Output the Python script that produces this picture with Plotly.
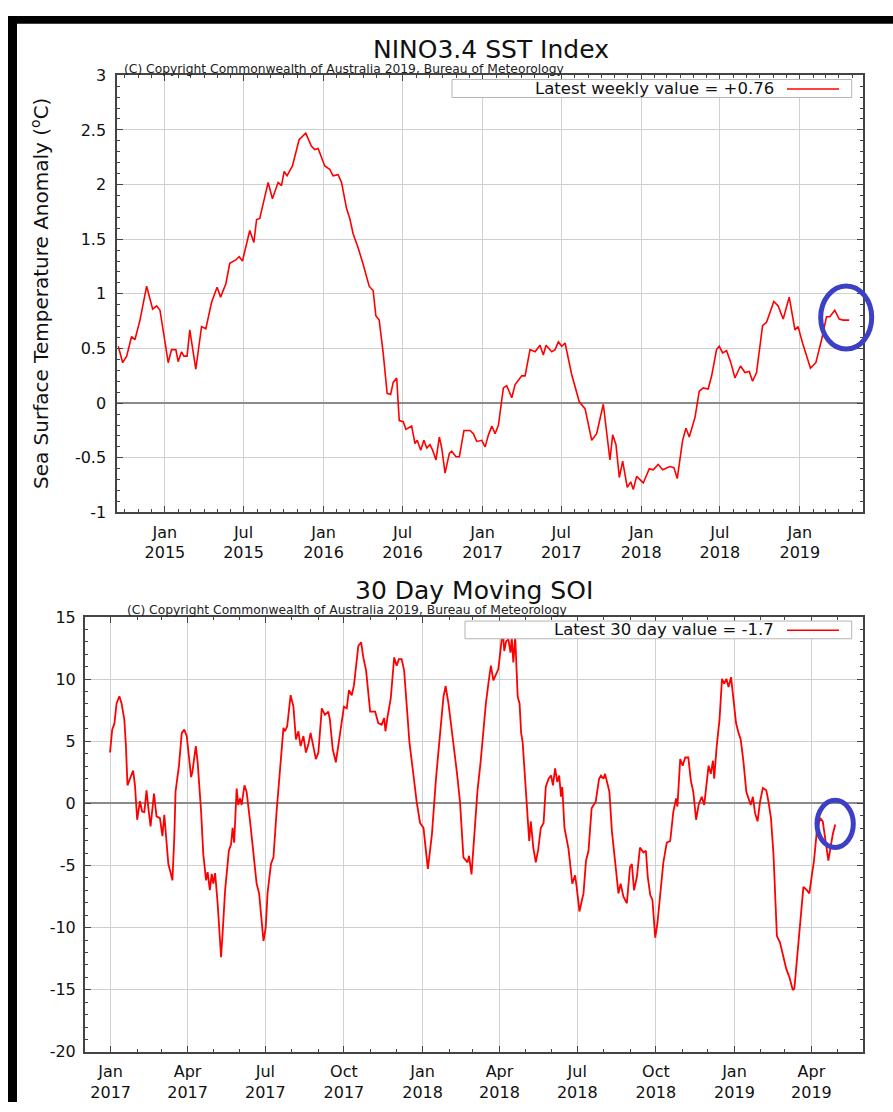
import numpy as np
import pandas as pd
import plotly.graph_objects as go

# ---------------- data (decimal years) ----------------
nino_t = [2014.706, 2014.734, 2014.759, 2014.790, 2014.811, 2014.843, 2014.885, 2014.923, 2014.948, 2014.969,
          2015.021, 2015.042, 2015.069, 2015.084, 2015.105, 2015.120, 2015.140, 2015.157, 2015.195, 2015.231,
          2015.258, 2015.294, 2015.329, 2015.351, 2015.384, 2015.409, 2015.447, 2015.468, 2015.489, 2015.535,
          2015.561, 2015.578, 2015.598, 2015.651, 2015.678, 2015.714, 2015.735, 2015.752, 2015.770, 2015.804,
          2015.846, 2015.888, 2015.924, 2015.945, 2015.966, 2016.008, 2016.039, 2016.060, 2016.092, 2016.113,
          2016.145, 2016.165, 2016.186, 2016.218, 2016.249, 2016.287, 2016.312, 2016.329, 2016.350, 2016.375,
          2016.400, 2016.422, 2016.438, 2016.460, 2016.476, 2016.501, 2016.518, 2016.554, 2016.575, 2016.589,
          2016.611, 2016.631, 2016.649, 2016.669, 2016.686, 2016.707, 2016.728, 2016.743, 2016.764, 2016.791,
          2016.806, 2016.833, 2016.854, 2016.883, 2016.921, 2016.942, 2016.963, 2016.995, 2017.016, 2017.037,
          2017.058, 2017.079, 2017.100, 2017.131, 2017.152, 2017.184, 2017.205, 2017.247, 2017.268, 2017.299,
          2017.331, 2017.362, 2017.383, 2017.400, 2017.436, 2017.457, 2017.478, 2017.499, 2017.520, 2017.562,
          2017.610, 2017.646, 2017.688, 2017.719, 2017.761, 2017.782, 2017.803, 2017.820, 2017.841, 2017.862,
          2017.883, 2017.912, 2017.934, 2017.950, 2017.971, 2018.013, 2018.051, 2018.076, 2018.107, 2018.135,
          2018.181, 2018.206, 2018.227, 2018.261, 2018.282, 2018.303, 2018.339, 2018.366, 2018.391, 2018.422,
          2018.444, 2018.475, 2018.492, 2018.513, 2018.538, 2018.563, 2018.591, 2018.626, 2018.654, 2018.681,
          2018.702, 2018.727, 2018.765, 2018.790, 2018.836, 2018.863, 2018.895, 2018.933, 2018.969, 2018.989,
          2019.017, 2019.067, 2019.101, 2019.137, 2019.168, 2019.189, 2019.220, 2019.248, 2019.273, 2019.311]
nino_v = [0.52, 0.37, 0.43, 0.61, 0.58, 0.76, 1.07, 0.86, 0.89, 0.85,
          0.37, 0.49, 0.49, 0.38, 0.47, 0.43, 0.43, 0.67, 0.31, 0.70,
          0.68, 0.92, 1.06, 0.97, 1.09, 1.28, 1.31, 1.34, 1.30, 1.58,
          1.47, 1.68, 1.69, 2.02, 1.87, 2.02, 1.99, 2.12, 2.08, 2.17,
          2.41, 2.47, 2.35, 2.32, 2.33, 2.17, 2.14, 2.08, 2.09, 2.02,
          1.78, 1.69, 1.55, 1.42, 1.27, 1.07, 1.03, 0.80, 0.76, 0.46,
          0.09, 0.08, 0.19, 0.23, -0.16, -0.17, -0.24, -0.21, -0.37, -0.34,
          -0.43, -0.34, -0.41, -0.38, -0.43, -0.52, -0.31, -0.41, -0.64, -0.46,
          -0.44, -0.49, -0.49, -0.25, -0.25, -0.28, -0.35, -0.34, -0.40, -0.29,
          -0.21, -0.28, -0.20, 0.14, 0.16, 0.05, 0.17, 0.25, 0.25, 0.49,
          0.47, 0.53, 0.44, 0.53, 0.47, 0.49, 0.56, 0.52, 0.55, 0.26,
          0.01, -0.05, -0.34, -0.28, -0.01, -0.25, -0.52, -0.29, -0.38, -0.68,
          -0.53, -0.77, -0.72, -0.79, -0.67, -0.73, -0.60, -0.61, -0.56, -0.61,
          -0.58, -0.59, -0.69, -0.34, -0.23, -0.31, -0.13, 0.11, 0.14, 0.13,
          0.25, 0.49, 0.52, 0.46, 0.48, 0.38, 0.23, 0.34, 0.28, 0.29,
          0.20, 0.28, 0.71, 0.74, 0.93, 0.89, 0.77, 0.97, 0.67, 0.70,
          0.55, 0.32, 0.37, 0.58, 0.79, 0.79, 0.85, 0.77, 0.76, 0.76]

soi_t = [2016.998, 2017.005, 2017.012, 2017.019, 2017.028, 2017.035, 2017.044, 2017.049, 2017.054, 2017.062,
         2017.072, 2017.078, 2017.085, 2017.094, 2017.101, 2017.108, 2017.115, 2017.121, 2017.128, 2017.139,
         2017.147, 2017.158, 2017.166, 2017.172, 2017.185, 2017.193, 2017.198, 2017.204, 2017.208, 2017.219,
         2017.228, 2017.236, 2017.244, 2017.258, 2017.262, 2017.273, 2017.279, 2017.290, 2017.297, 2017.306,
         2017.311, 2017.318, 2017.324, 2017.329, 2017.335, 2017.343, 2017.351, 2017.354, 2017.359, 2017.367,
         2017.379, 2017.386, 2017.391, 2017.396, 2017.404, 2017.409, 2017.415, 2017.420, 2017.429, 2017.436,
         2017.447, 2017.457, 2017.468, 2017.476, 2017.482, 2017.490, 2017.497, 2017.503, 2017.514, 2017.522,
         2017.532, 2017.538, 2017.546, 2017.554, 2017.559, 2017.566, 2017.577, 2017.586, 2017.594, 2017.602,
         2017.609, 2017.618, 2017.626, 2017.634, 2017.641, 2017.650, 2017.658, 2017.666, 2017.677, 2017.687,
         2017.698, 2017.703, 2017.712, 2017.722, 2017.730, 2017.741, 2017.748, 2017.757, 2017.764, 2017.773,
         2017.780, 2017.794, 2017.803, 2017.810, 2017.819, 2017.832, 2017.848, 2017.858, 2017.869, 2017.877,
         2017.881, 2017.887, 2017.898, 2017.909, 2017.917, 2017.924, 2017.933, 2017.941, 2017.958, 2017.971,
         2017.981, 2017.992, 2018.003, 2018.017, 2018.030, 2018.043, 2018.056, 2018.067, 2018.074, 2018.083,
         2018.094, 2018.101, 2018.110, 2018.120, 2018.131, 2018.144, 2018.149, 2018.157, 2018.166, 2018.176,
         2018.186, 2018.195, 2018.203, 2018.211, 2018.219, 2018.227, 2018.235, 2018.243, 2018.252, 2018.257,
         2018.262, 2018.268, 2018.275, 2018.282, 2018.286, 2018.291, 2018.297, 2018.305, 2018.311, 2018.316,
         2018.321, 2018.329, 2018.337, 2018.342, 2018.347, 2018.355, 2018.363, 2018.371, 2018.379, 2018.388,
         2018.395, 2018.404, 2018.412, 2018.418, 2018.425, 2018.432, 2018.438, 2018.444, 2018.448, 2018.455,
         2018.468, 2018.480, 2018.489, 2018.494, 2018.503, 2018.511, 2018.516, 2018.524, 2018.532, 2018.542,
         2018.555, 2018.566, 2018.572, 2018.580, 2018.585, 2018.594, 2018.599, 2018.607, 2018.617, 2018.628,
         2018.635, 2018.644, 2018.655, 2018.665, 2018.671, 2018.678, 2018.687, 2018.697, 2018.708, 2018.716,
         2018.722, 2018.730, 2018.737, 2018.746, 2018.753, 2018.762, 2018.772, 2018.783, 2018.794, 2018.804,
         2018.813, 2018.817, 2018.826, 2018.834, 2018.842, 2018.852, 2018.860, 2018.868, 2018.877, 2018.885,
         2018.895, 2018.903, 2018.909, 2018.917, 2018.924, 2018.931, 2018.935, 2018.943, 2018.952, 2018.960,
         2018.967, 2018.974, 2018.981, 2018.989, 2018.997, 2019.005, 2019.013, 2019.020, 2019.029, 2019.038,
         2019.045, 2019.052, 2019.059, 2019.066, 2019.074, 2019.082, 2019.091, 2019.102, 2019.109, 2019.117,
         2019.125, 2019.136, 2019.146, 2019.157, 2019.166, 2019.176, 2019.187, 2019.192, 2019.202, 2019.213,
         2019.221, 2019.232, 2019.240, 2019.248, 2019.255, 2019.264, 2019.275, 2019.283, 2019.294, 2019.301,
         2019.307, 2019.315, 2019.323]
soi_v = [4.09, 5.93, 6.41, 8.04, 8.62, 8.04, 6.72, 4.61, 1.45, 1.98,
         2.64, 1.45, -1.32, 0.18, -0.66, -0.71, 1.05, -0.40, -1.85, 0.79,
         -1.05, -1.19, -2.64, -0.92, -4.88, -5.67, -6.20, -2.77, 0.92, 3.03,
         5.67, 5.93, 5.41, 2.11, 2.51, 4.61, 3.30, -0.66, -4.09, -6.20,
         -5.54, -6.99, -5.67, -6.46, -5.62, -8.04, -12.0, -12.39, -10.42, -6.99,
         -3.82, -3.30, -1.98, -3.16, 1.19, -0.13, 0.40, -0.13, 1.45, 0.92,
         -1.45, -3.69, -6.46, -7.25, -9.10, -11.08, -10.02, -7.25, -4.88, -4.35,
         -0.66, 1.19, 4.09, 6.07, 5.80, 6.20, 8.70, 7.78, 5.14, 5.80,
         4.61, 5.41, 4.09, 4.75, 5.67, 4.61, 3.56, 4.09, 7.65, 7.12,
         7.38, 6.72, 4.35, 3.30, 4.61, 6.46, 7.78, 7.65, 9.10, 8.70,
         9.49, 12.66, 12.97, 11.74, 10.68, 7.38, 7.38, 6.46, 6.33, 6.86,
         5.80, 6.86, 8.44, 11.74, 11.08, 11.60, 11.60, 10.68, 4.88, 2.24,
         0.13, -1.58, -1.98, -5.27, -2.51, 1.98, 5.67, 8.57, 9.44, 8.04,
         5.80, 4.48, 2.51, 0.13, -4.35, -4.75, -4.22, -5.72, -2.51, 1.00,
         3.30, 5.93, 8.04, 9.63, 11.08, 9.89, 10.42, 10.81, 12.79, 13.90,
         12.26, 13.05, 13.19, 12.13, 13.32, 11.34, 13.45, 8.57, 8.04, 5.67,
         4.88, 2.24, -1.19, -3.03, -1.45, -3.56, -4.75, -3.69, -1.98, -1.58,
         1.32, 1.98, 2.24, 1.45, 2.82, 1.71, 2.24, 0.53, 1.32, -1.98,
         -3.69, -6.46, -5.80, -6.72, -8.70, -7.78, -7.25, -4.61, -3.82, -0.40,
         0.13, 1.98, 2.24, 1.98, 2.37, 1.45, 0.92, -2.24, -4.61, -7.25,
         -6.46, -7.52, -8.04, -5.14, -4.88, -6.99, -5.93, -3.56, -3.96, -3.82,
         -5.93, -7.38, -7.78, -10.81, -9.63, -7.25, -4.75, -3.16, -3.03, -0.66,
         0.40, -0.26, 3.56, 3.03, 3.69, 3.69, 1.85, 0.92, -1.32, -0.13,
         0.53, -0.13, 1.32, 3.03, 2.37, 3.43, 1.98, 4.61, 6.72, 10.02,
         9.63, 10.02, 9.36, 10.15, 8.31, 6.46, 5.67, 5.14, 3.30, 0.92,
         0.40, -0.13, 0.53, -0.79, -1.45, 0.13, 1.24, 1.05, 0.13, -1.19,
         -4.09, -10.68, -11.21, -12.26, -13.32, -13.98, -15.03, -14.90, -12.0, -8.57,
         -6.72, -6.99, -7.25, -5.80, -4.61, -2.24, -1.19, -1.45, -3.30, -4.61,
         -3.69, -2.51, -1.70]

nino_xtick_dates = ["2015-01-01", "2015-07-01", "2016-01-01", "2016-07-01", "2017-01-01",
                    "2017-07-01", "2018-01-01", "2018-07-01", "2019-01-01"]
nino_xtick_labels = ["Jan<br>2015", "Jul<br>2015", "Jan<br>2016", "Jul<br>2016", "Jan<br>2017",
                     "Jul<br>2017", "Jan<br>2018", "Jul<br>2018", "Jan<br>2019"]
soi_xtick_dates = ["2017-01-01", "2017-04-01", "2017-07-01", "2017-10-01", "2018-01-01",
                   "2018-04-01", "2018-07-01", "2018-10-01", "2019-01-01", "2019-04-01"]
soi_xtick_labels = ["Jan<br>2017", "Apr<br>2017", "Jul<br>2017", "Oct<br>2017", "Jan<br>2018",
                    "Apr<br>2018", "Jul<br>2018", "Oct<br>2018", "Jan<br>2019", "Apr<br>2019"]
nino_yticks = [-1, -0.5, 0, 0.5, 1, 1.5, 2, 2.5, 3]
nino_yticklabels = ["-1", "-0.5", "0", "0.5", "1", "1.5", "2", "2.5", "3"]
soi_yticks = [-20, -15, -10, -5, 0, 5, 10, 15]
soi_yticklabels = ["-20", "-15", "-10", "-5", "0", "5", "10", "15"]

nino_title = "NINO3.4 SST Index"
soi_title = "30 Day Moving SOI"
copyright_text = "(C) Copyright Commonwealth of Australia 2019, Bureau of Meteorology"
nino_legend = "Latest weekly value = +0.76"
soi_legend = "Latest 30 day value = -1.7"
nino_ytitle = "Sea Surface Temperature Anomaly (<sup>o</sup>C)"


def dec_to_date(t):
    y = int(np.floor(t))
    start = pd.Timestamp(year=y, month=1, day=1)
    end = pd.Timestamp(year=y + 1, month=1, day=1)
    return start + (end - start) * (t - y)


nino_dates = [dec_to_date(t) for t in nino_t]
soi_dates = [dec_to_date(t) for t in soi_t]

W, H = 893, 1112


def px(x):
    return x / W


def py(y):
    return 1 - y / H


FONT = "DejaVu Sans"
AX = "#444444"
GRID = "#d0d0d0"
RED = "#ff0000"
BLUE = "#3c40c6"

fig = go.Figure()
fig.add_trace(go.Scatter(x=nino_dates, y=nino_v, mode="lines", name=nino_legend,
                         line=dict(color=RED, width=1.6), xaxis="x", yaxis="y", showlegend=False))
fig.add_trace(go.Scatter(x=soi_dates, y=soi_v, mode="lines", name=soi_legend,
                         line=dict(color=RED, width=1.8), xaxis="x2", yaxis="y2", showlegend=False))

tickfont = dict(family=FONT, size=16, color="#111111")


def xaxis_common():
    return dict(type="date", tickmode="array", ticks="inside", ticklen=6, tickcolor=AX, tickwidth=1,
                showgrid=True, gridcolor=GRID, gridwidth=1,
                showline=True, linecolor=AX, linewidth=2, mirror="ticks",
                zeroline=False, tickfont=tickfont, ticklabelstandoff=4)


xa1 = xaxis_common()
xa1.update(domain=[px(117.3), px(863.3)], anchor="y",
           range=[dec_to_date(2014.70), dec_to_date(2019.40)],
           tickvals=nino_xtick_dates, ticktext=nino_xtick_labels,
           minor=dict(tickmode="linear", dtick="M1", tick0="2015-01-01", ticks="inside", ticklen=3,
                      tickcolor=AX, showgrid=False))
xa2 = xaxis_common()
xa2.update(domain=[px(85), px(863.3)], anchor="y2",
           range=[dec_to_date(2016.918), dec_to_date(2019.413)],
           tickvals=soi_xtick_dates, ticktext=soi_xtick_labels,
           minor=dict(tickmode="linear", dtick="M1", tick0="2017-01-01", ticks="inside", ticklen=3,
                      tickcolor=AX, showgrid=False))

ya1 = dict(domain=[py(512.2), py(67.4)], anchor="x", range=[-1, 3],
           tickmode="array", tickvals=nino_yticks, ticktext=nino_yticklabels,
           ticks="inside", ticklen=6, tickcolor=AX, showgrid=True, gridcolor=GRID, gridwidth=1,
           showline=True, linecolor=AX, linewidth=2, mirror="ticks",
           zeroline=True, zerolinecolor="#8a8a8a", zerolinewidth=1.5,
           tickfont=tickfont, ticklabelstandoff=6,
           minor=dict(tickmode="linear", tick0=-1, dtick=0.1, ticks="inside", ticklen=3,
                      tickcolor=AX, showgrid=False))
ya2 = dict(domain=[py(1061), py(618.5)], anchor="x2", range=[-20, 15],
           tickmode="array", tickvals=soi_yticks, ticktext=soi_yticklabels,
           ticks="inside", ticklen=6, tickcolor=AX, showgrid=True, gridcolor=GRID, gridwidth=1,
           showline=True, linecolor=AX, linewidth=2, mirror="ticks",
           zeroline=True, zerolinecolor="#8a8a8a", zerolinewidth=1.5,
           tickfont=tickfont, ticklabelstandoff=4,
           minor=dict(tickmode="linear", tick0=-20, dtick=1, ticks="inside", ticklen=3,
                      tickcolor=AX, showgrid=False))

annotations = [
    dict(text=nino_title, x=px(491), y=py(41), xref="paper", yref="paper", showarrow=False,
         xanchor="center", yanchor="middle", font=dict(family=FONT, size=25, color="#111111")),
    dict(text=copyright_text, x=px(122), y=py(61), xref="paper", yref="paper", showarrow=False,
         xanchor="left", yanchor="middle", font=dict(family=FONT, size=12.3, color="#222222")),
    dict(text=nino_ytitle, x=px(40), y=py(290), xref="paper", yref="paper", showarrow=False,
         textangle=-90, xanchor="center", yanchor="middle", font=dict(family=FONT, size=20, color="#111111")),
    dict(text=nino_legend, x=px(776), y=py(81), xref="paper", yref="paper", showarrow=False,
         xanchor="right", yanchor="middle", font=dict(family=FONT, size=16.5, color="#111111")),
    dict(text=soi_title, x=px(474), y=py(592), xref="paper", yref="paper", showarrow=False,
         xanchor="center", yanchor="middle", font=dict(family=FONT, size=25, color="#111111")),
    dict(text=copyright_text, x=px(125), y=py(611), xref="paper", yref="paper", showarrow=False,
         xanchor="left", yanchor="middle", font=dict(family=FONT, size=12.3, color="#222222")),
    dict(text=soi_legend, x=px(776), y=py(631.5), xref="paper", yref="paper", showarrow=False,
         xanchor="right", yanchor="middle", font=dict(family=FONT, size=16.5, color="#111111")),
]

shapes = [
    # black screenshot frame (left and top bars)
    dict(type="rect", xref="paper", yref="paper", x0=px(8), x1=px(17), y0=0, y1=py(7),
         fillcolor="black", line=dict(width=0), layer="above"),
    dict(type="rect", xref="paper", yref="paper", x0=px(8), x1=1, y0=py(15), y1=py(7),
         fillcolor="black", line=dict(width=0), layer="above"),
    # legend boxes
    dict(type="rect", xref="paper", yref="paper", x0=px(452), x1=px(851.7), y0=py(90), y1=py(71.7),
         fillcolor="white", line=dict(color="#b5b5b5", width=1), layer="above"),
    dict(type="line", xref="paper", yref="paper", x0=px(787), x1=px(839), y0=py(81.5), y1=py(81.5),
         line=dict(color=RED, width=1.5), layer="above"),
    dict(type="rect", xref="paper", yref="paper", x0=px(465), x1=px(851.7), y0=py(640.7), y1=py(622.7),
         fillcolor="white", line=dict(color="#b5b5b5", width=1), layer="above"),
    dict(type="line", xref="paper", yref="paper", x0=px(787), x1=px(839), y0=py(632), y1=py(632),
         line=dict(color=RED, width=1.5), layer="above"),
    # hand-drawn blue highlight ellipses
    dict(type="circle", xref="paper", yref="paper", x0=px(820.7), x1=px(871.7), y0=py(346), y1=py(281.7),
         line=dict(color=BLUE, width=5), layer="above"),
    dict(type="circle", xref="paper", yref="paper", x0=px(817), x1=px(853.3), y0=py(853), y1=py(805),
         line=dict(color=BLUE, width=5), layer="above"),
]

fig.update_layout(width=W, height=H, margin=dict(l=0, r=0, t=0, b=0),
                  paper_bgcolor="white", plot_bgcolor="white",
                  xaxis=xa1, yaxis=ya1, xaxis2=xa2, yaxis2=ya2,
                  annotations=annotations, shapes=shapes, showlegend=False,
                  font=dict(family=FONT, color="#111111"))

# remove the browser's default 8px page margin so the figure fills the window exactly
fig.write_html("out.html", config={"displayModeBar": False},
               post_script="document.body.style.margin='0px';document.body.style.overflow='hidden';")
